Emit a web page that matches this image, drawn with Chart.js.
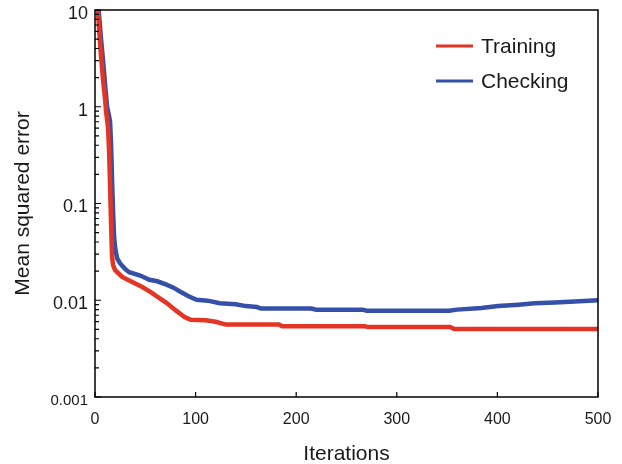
<!DOCTYPE html>
<html>
<head>
<meta charset="utf-8">
<script src="https://cdn.jsdelivr.net/npm/chart.js@4/dist/chart.umd.min.js"></script>
<style>
  html, body { margin: 0; padding: 0; background: #fff; }
  #wrap { width: 622px; height: 464px; }
</style>
</head>
<body>
<div id="wrap"><canvas id="mse"></canvas></div>
<script>
// Colors
var trainingColor = "rgb(228, 52, 36)";
var checkingColor = "rgb(52, 80, 168)";

// Data
var trainingIter = [2, 4, 6, 8, 10, 11, 13, 14, 15, 16, 17, 18, 20, 27, 35, 47, 55, 63, 71, 80, 89, 95, 110, 120, 130, 183, 186, 268, 271, 353, 357, 500];
var trainingMse  = [14, 6.5, 3.3, 1.9, 1.2, 0.9, 0.6, 0.35, 0.15, 0.06, 0.028, 0.023, 0.0205, 0.0174, 0.0158, 0.0137, 0.0122, 0.0107, 0.0094, 0.0079, 0.0067, 0.0063, 0.0062, 0.0060, 0.0056, 0.0056, 0.0054, 0.0054, 0.0053, 0.0053, 0.00505, 0.00505];

var checkingIter = [2, 4, 6, 8, 10, 12, 14, 15, 16, 17, 18, 19, 20, 22, 25, 30, 34, 45, 54, 62, 71, 78, 84, 93, 101, 112, 124, 140, 150, 161, 165, 215, 220, 266, 270, 352, 360, 384, 401, 421, 437, 457, 477, 500];
var checkingMse  = [14, 9, 5, 3.0, 1.7, 1.0, 0.8, 0.7, 0.4, 0.17, 0.08, 0.045, 0.035, 0.027, 0.024, 0.021, 0.0195, 0.018, 0.0163, 0.0157, 0.0145, 0.0135, 0.0124, 0.011, 0.0101, 0.0099, 0.0093, 0.0091, 0.0087, 0.0085, 0.0082, 0.0082, 0.0080, 0.0080, 0.0078, 0.0078, 0.0080, 0.0083, 0.0087, 0.0090, 0.0093, 0.0095, 0.0097, 0.0100];

var xTicks = [0, 100, 200, 300, 400, 500];
var yDecades = [0.001, 0.01, 0.1, 1, 10];
var yTickLabels = ['0.001', '0.01', '0.1', '1', '10'];

function toPoints(xs, ys) {
  return xs.map(function (x, i) { return { x: x, y: ys[i] }; });
}

Chart.defaults.font.family = '"Liberation Sans", Arial, sans-serif';
Chart.defaults.color = '#1a1a1a';

// frame, inward ticks and legend inside the plot
var framePlugin = {
  id: 'frame',
  afterDraw: function (chart) {
    var ctx = chart.ctx;
    var a = chart.chartArea;
    var xs = chart.scales.x, ys = chart.scales.y;
    ctx.save();
    ctx.strokeStyle = '#000';
    ctx.lineWidth = 1.5;
    ctx.strokeRect(a.left, a.top, a.right - a.left, a.bottom - a.top);

    ctx.lineWidth = 1.2;
    ctx.beginPath();
    ys.ticks.forEach(function (t) {
      var py = ys.getPixelForValue(t.value);
      var major = Math.abs(Math.log10(t.value) - Math.round(Math.log10(t.value))) < 1e-6;
      var len = major ? 6 : 4;
      ctx.moveTo(a.left, py);
      ctx.lineTo(a.left + len, py);
    });
    xs.ticks.forEach(function (t) {
      var px = xs.getPixelForValue(t.value);
      ctx.moveTo(px, a.bottom);
      ctx.lineTo(px, a.bottom - 5);
    });
    ctx.stroke();

    // legend
    ctx.font = '21px "Liberation Sans", Arial, sans-serif';
    ctx.textBaseline = 'middle';
    ctx.fillStyle = '#1a1a1a';
    chart.data.datasets.forEach(function (ds, i) {
      var y = 46 + i * 35;
      ctx.strokeStyle = ds.borderColor;
      ctx.lineWidth = 3;
      ctx.beginPath();
      ctx.moveTo(436, y);
      ctx.lineTo(473, y);
      ctx.stroke();
      ctx.fillText(ds.label, 481, y + 1);
    });
    ctx.restore();
  }
};

var mseChart = new Chart(document.getElementById('mse'), {
  type: 'line',
  data: {
    datasets: [
      {
        label: 'Training',
        data: toPoints(trainingIter, trainingMse),
        borderColor: trainingColor,
        backgroundColor: trainingColor,
        borderWidth: 4.5,
        pointRadius: 0,
        tension: 0,
      },
      {
        label: 'Checking',
        data: toPoints(checkingIter, checkingMse),
        borderColor: checkingColor,
        backgroundColor: checkingColor,
        borderWidth: 4.5,
        pointRadius: 0,
        tension: 0,
      }
    ]
  },
  options: {
    responsive: true,
    maintainAspectRatio: false,
    animation: false,
    layout: { padding: { left: 0, top: 10, right: 24, bottom: 0 } },
    plugins: {
      legend: { display: false },
      tooltip: { enabled: false }
    },
    scales: {
      x: {
        type: 'linear',
        min: 0,
        max: 500,
        grid: { display: true, drawOnChartArea: false, drawTicks: false },
        border: { display: false },
        afterBuildTicks: function (scale) {
          scale.ticks = xTicks.map(function (v) { return { value: v }; });
        },
        ticks: {
          padding: 13,
          font: { size: 16 },
          autoSkip: false,
          maxRotation: 0
        },
        title: {
          display: true,
          text: 'Iterations',
          font: { size: 21 },
          padding: { top: 0, bottom: -3 }
        },
        afterFit: function (scale) {
          scale.height = 464 - 397;
          scale.paddingLeft = 0;
          scale.paddingRight = 0;
        }
      },
      y: {
        type: 'logarithmic',
        min: 0.001,
        max: 10,
        grid: { display: true, drawOnChartArea: false, drawTicks: false },
        border: { display: false },
        afterBuildTicks: function (scale) {
          var list = [];
          yDecades.forEach(function (d, i) {
            var top = (i === yDecades.length - 1) ? 1 : 9;
            for (var k = 1; k <= top; k++) list.push({ value: +(d * k).toPrecision(6) });
          });
          scale.ticks = list;
        },
        ticks: {
          padding: 7,
          labelOffset: 4,
          autoSkip: false,
          font: function (c) {
            return { size: (c.tick && c.tick.value === 0.001) ? 15 : 18 };
          },
          callback: function (v) {
            var idx = yDecades.findIndex(function (d) { return Math.abs(d - v) / d < 1e-6; });
            return idx >= 0 ? yTickLabels[idx] : '';
          }
        },
        title: {
          display: true,
          text: 'Mean squared error',
          font: { size: 21 },
          padding: { top: 11, bottom: 0 }
        },
        afterFit: function (scale) {
          scale.width = 95;
          scale.paddingTop = 0;
          scale.paddingBottom = 0;
        }
      }
    }
  },
  plugins: [framePlugin]
});
</script>
</body>
</html>
